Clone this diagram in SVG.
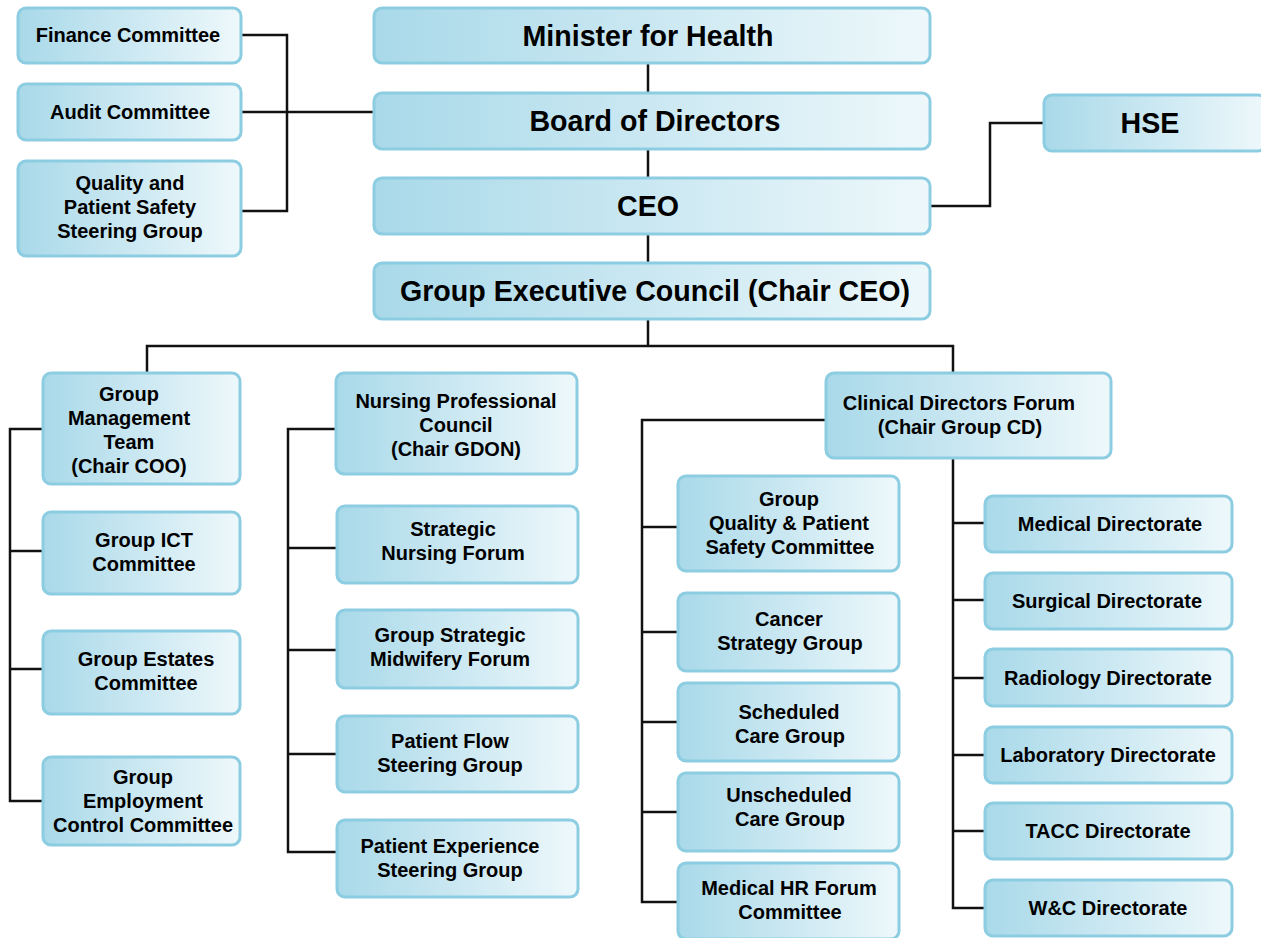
<svg xmlns="http://www.w3.org/2000/svg" width="1261" height="938" viewBox="0 0 1261 938">
<defs>
<linearGradient id="g" x1="0" y1="0" x2="1" y2="0">
<stop offset="0" stop-color="#a9d9e9"/>
<stop offset="0.5" stop-color="#cbe8f2"/>
<stop offset="1" stop-color="#eef8fb"/>
</linearGradient>
</defs>
<style>
rect{fill:url(#g);stroke:#8ccde2;stroke-width:3}
text{font-family:"Liberation Sans",Arial,sans-serif;font-weight:bold;fill:#000;text-anchor:middle;font-size:20px}
text.h{font-size:28.6px}
#connectors path{fill:none;stroke:#111;stroke-width:2.5}
</style>
<rect x="0" y="0" width="1261" height="938" style="fill:#fff;stroke:none"/>
<g id="connectors">
<path d="M241 35 H287 V211 H241"/>
<path d="M241 112 H374"/>
<path d="M648 63 V93 M648 149 V178 M648 234 V263 M648 319 V346"/>
<path d="M930 206 H990 V123 H1044"/>
<path d="M147 373 V346 H953 V373"/>
<path d="M43 429 H10 V801 H43 M10 551 H43 M10 669 H43"/>
<path d="M336 429 H288 V852 H337 M288 548 H337 M288 650 H337 M288 754 H337"/>
<path d="M826 420 H642 V902 H678 M642 527 H678 M642 632 H678 M642 722 H678 M642 812 H678"/>
<path d="M953 458 V908 H985 M953 523 H985 M953 600 H985 M953 678 H985 M953 755 H985 M953 831 H985"/>
</g>
<g id="finance"><rect x="18" y="8" width="223" height="55" rx="8"/><text x="128" y="42">Finance Committee</text></g>
<g id="audit"><rect x="18" y="84" width="223" height="56" rx="8"/><text x="130" y="119">Audit Committee</text></g>
<g id="quality"><rect x="18" y="161" width="223" height="95" rx="8"/><text x="130" y="190">Quality and</text><text x="130" y="214">Patient Safety</text><text x="130" y="238">Steering Group</text></g>
<g id="minister"><rect x="374" y="8" width="556" height="55" rx="8"/><text class="h" x="648" y="46">Minister for Health</text></g>
<g id="board"><rect x="374" y="93" width="556" height="56" rx="8"/><text class="h" x="655" y="131">Board of Directors</text></g>
<g id="ceo"><rect x="374" y="178" width="556" height="56" rx="8"/><text class="h" x="648" y="216">CEO</text></g>
<g id="gec"><rect x="374" y="263" width="556" height="56" rx="8"/><text class="h" x="655" y="301">Group Executive Council (Chair CEO)</text></g>
<g id="hse"><rect x="1044" y="95" width="222" height="56" rx="8"/><text class="h" x="1150" y="133">HSE</text></g>
<g id="gmt"><rect x="43" y="373" width="197" height="111" rx="8"/><text x="129" y="401">Group</text><text x="129" y="425">Management</text><text x="129" y="449">Team</text><text x="129" y="473">(Chair COO)</text></g>
<g id="ict"><rect x="43" y="512" width="197" height="82" rx="8"/><text x="144" y="547">Group ICT</text><text x="144" y="571">Committee</text></g>
<g id="estates"><rect x="43" y="631" width="197" height="83" rx="8"/><text x="146" y="666">Group Estates</text><text x="146" y="690">Committee</text></g>
<g id="employment"><rect x="43" y="757" width="197" height="88" rx="8"/><text x="143" y="784">Group</text><text x="143" y="808">Employment</text><text x="143" y="832">Control Committee</text></g>
<g id="npc"><rect x="336" y="373" width="241" height="101" rx="8"/><text x="456" y="408">Nursing Professional</text><text x="456" y="432">Council</text><text x="456" y="456">(Chair GDON)</text></g>
<g id="snf"><rect x="337" y="506" width="241" height="77" rx="8"/><text x="453" y="536">Strategic</text><text x="453" y="560">Nursing Forum</text></g>
<g id="midwifery"><rect x="337" y="610" width="241" height="78" rx="8"/><text x="450" y="642">Group Strategic</text><text x="450" y="666">Midwifery Forum</text></g>
<g id="flow"><rect x="337" y="716" width="241" height="76" rx="8"/><text x="450" y="748">Patient Flow</text><text x="450" y="772">Steering Group</text></g>
<g id="experience"><rect x="337" y="820" width="241" height="77" rx="8"/><text x="450" y="853">Patient Experience</text><text x="450" y="877">Steering Group</text></g>
<g id="cdf"><rect x="826" y="373" width="285" height="85" rx="8"/><text x="959" y="410">Clinical Directors Forum</text><text x="960" y="434">(Chair Group CD)</text></g>
<g id="gqps"><rect x="678" y="476" width="221" height="95" rx="8"/><text x="789" y="506">Group</text><text x="789" y="530">Quality &amp; Patient</text><text x="790" y="554">Safety Committee</text></g>
<g id="cancer"><rect x="678" y="593" width="221" height="78" rx="8"/><text x="789" y="626">Cancer</text><text x="790" y="650">Strategy Group</text></g>
<g id="scheduled"><rect x="678" y="683" width="221" height="78" rx="8"/><text x="789" y="719">Scheduled</text><text x="790" y="743">Care Group</text></g>
<g id="unscheduled"><rect x="678" y="773" width="221" height="78" rx="8"/><text x="789" y="802">Unscheduled</text><text x="790" y="826">Care Group</text></g>
<g id="medhr"><rect x="678" y="863" width="221" height="76" rx="8"/><text x="789" y="895">Medical HR Forum</text><text x="790" y="919">Committee</text></g>
<g id="medical"><rect x="985" y="496" width="247" height="56" rx="8"/><text x="1110" y="531">Medical Directorate</text></g>
<g id="surgical"><rect x="985" y="573" width="247" height="56" rx="8"/><text x="1107" y="608">Surgical Directorate</text></g>
<g id="radiology"><rect x="985" y="649" width="247" height="57" rx="8"/><text x="1108" y="685">Radiology Directorate</text></g>
<g id="laboratory"><rect x="985" y="727" width="247" height="56" rx="8"/><text x="1108" y="762">Laboratory Directorate</text></g>
<g id="tacc"><rect x="985" y="803" width="247" height="56" rx="8"/><text x="1108" y="838">TACC Directorate</text></g>
<g id="wc"><rect x="985" y="880" width="247" height="56" rx="8"/><text x="1108" y="915">W&amp;C Directorate</text></g>
</svg>
